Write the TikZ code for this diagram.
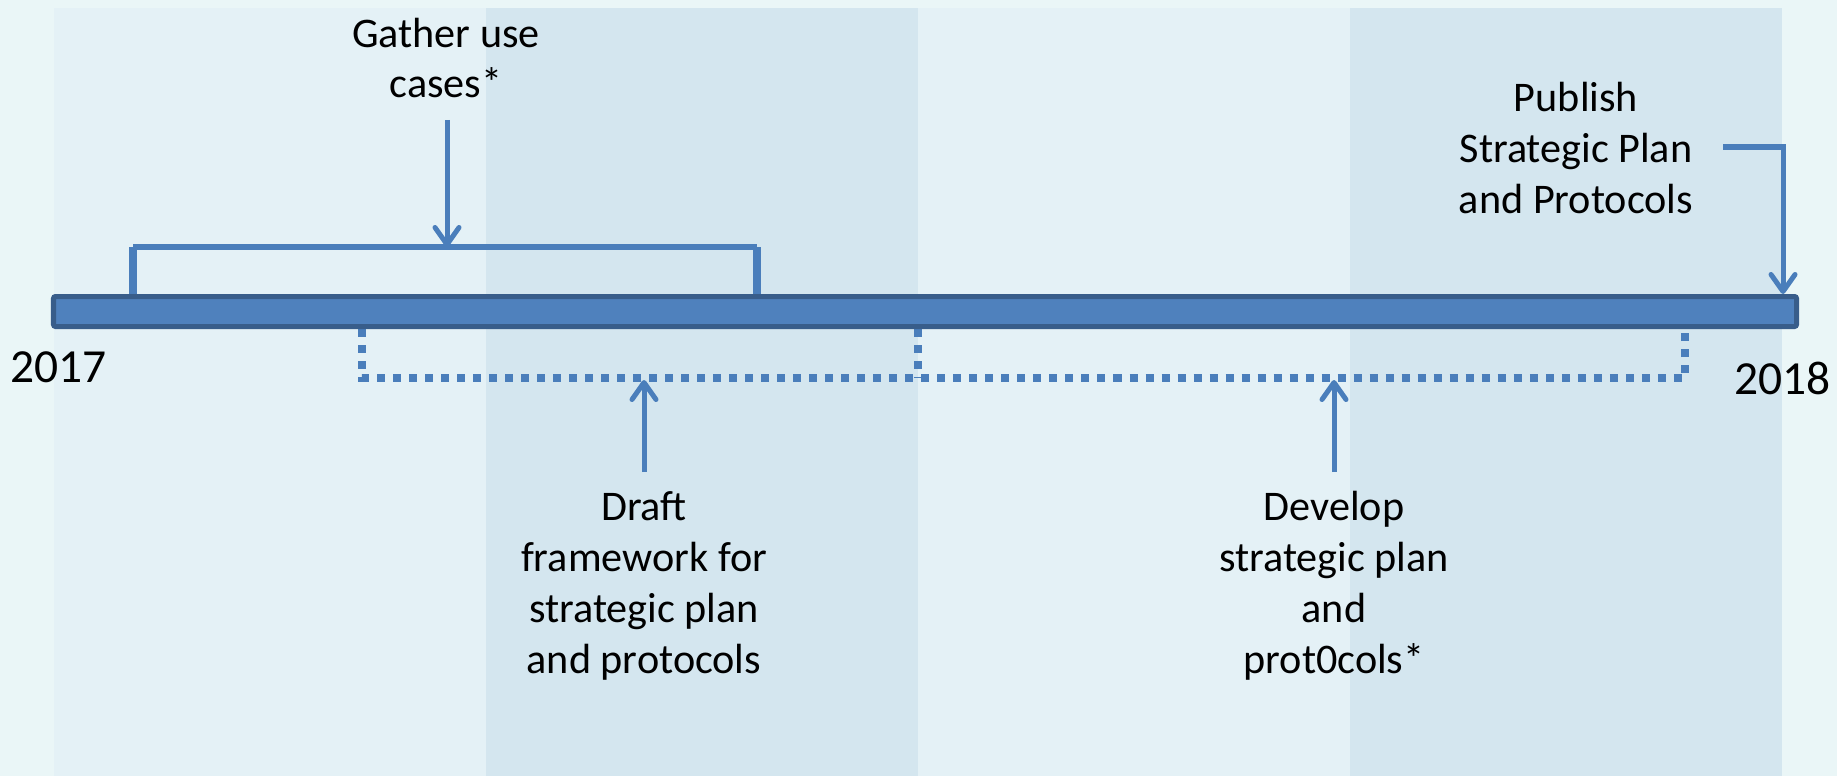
\documentclass[tikz,border=0pt]{standalone}
\usepackage{fontspec}
\setmainfont{Carlito}
\usetikzlibrary{arrows.meta}
\definecolor{pagebg}{HTML}{EAF6F7}
\definecolor{bandlight}{HTML}{E4F1F6}
\definecolor{banddark}{HTML}{D4E6EF}
\definecolor{barfill}{HTML}{4F81BD}
\definecolor{barline}{HTML}{385D8A}
\definecolor{linkblue}{HTML}{4A7EBB}
\tikzset{
  arr/.style={linkblue, line width=0.05cm, -{Straight Barb[length=0.17cm,width=0.24cm,round]}},
  bracketline/.style={linkblue, line width=0.05cm},
  dotline/.style={linkblue, line width=0.075cm, dash pattern=on 0.08cm off 0.08cm},
  tasktext/.style={align=center, font=\fontsize{12}{14.5}\selectfont, inner sep=0pt},
  yeartext/.style={font=\fontsize{13.5}{16}\selectfont, inner sep=0pt}
}
\begin{document}
\begin{tikzpicture}[x=0.01cm,y=-0.01cm]
        \fill[pagebg] (0,0) rectangle (1837,776);
        \useasboundingbox (0,0) rectangle (1837,776);
        \fill[bandlight] (54,8) rectangle (486,776);
        \fill[banddark] (486,8) rectangle (918,776);
        \fill[bandlight] (918,8) rectangle (1350,776);
        \fill[banddark] (1350,8) rectangle (1782,776);

        \draw[bracketline] (133,247) -- (757,247);
        \draw[bracketline, line width=0.075cm] (133,294) -- (133,247);
        \draw[bracketline, line width=0.075cm] (757,294) -- (757,247);
        \draw[dotline] (362,329) -- (362,378) -- (1685,378) -- (1685,329);
        \draw[dotline] (918,329) -- (918,378);
        \draw[barline, fill=barfill, line width=0.05cm, rounded corners=0.02cm] (53.5,296.5) rectangle (1796.5,326.5);

        \node[yeartext, anchor=base west] (y2017) at (10,382) {2017};
        \node[yeartext, anchor=base east] (y2018) at (1831,394) {2018};

        \node[tasktext, anchor=base] (gather) at (446,98) {Gather use\\cases*};
        \node[tasktext, anchor=base] (draft) at (644,673) {Draft\\framework for\\strategic plan\\and protocols};
        \node[tasktext, anchor=base] (develop) at (1334,673) {Develop\\strategic plan\\and\\prot0cols*};
        \node[tasktext, anchor=base] (publish) at (1576,213) {Publish\\Strategic Plan\\and Protocols};

        \coordinate (gatherFrom) at (447,120);
        \coordinate (gatherTo) at (447,247);
        \coordinate (draftFrom) at (644,472);
        \coordinate (draftTo) at (644,380);
        \coordinate (developFrom) at (1334,472);
        \coordinate (developTo) at (1334,380);
        \coordinate (publishFrom) at (1723,147);
        \coordinate (publishTo) at (1783,294);

        \draw[arr] (gatherFrom) -- (gatherTo);
        \draw[arr] (draftFrom) -- (draftTo);
        \draw[arr] (developFrom) -- (developTo);
        \draw[arr] (publishFrom) -| (publishTo);
\end{tikzpicture}
\end{document}
